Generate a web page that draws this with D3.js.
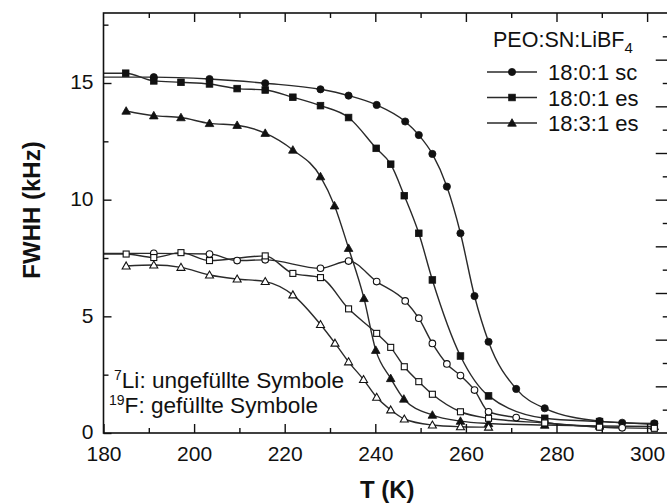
<!DOCTYPE html>
<html>
<head>
<meta charset="utf-8">
<script src="https://cdn.jsdelivr.net/npm/d3@7"></script>
<style>
  html, body { margin: 0; padding: 0; background: #fff; }
  svg { display: block; font-family: "Liberation Sans", Arial, sans-serif; }
</style>
</head>
<body>
<svg id="chart" width="667" height="504"></svg>
<script>
// 19F linewidths (filled symbols)
const tempF_sc = [191.1, 203.4, 215.7, 227.9, 234.1, 240.3, 246.6, 249.6, 252.6, 255.8, 258.8, 261.9, 265.0, 271.1, 277.4, 289.5, 294.5, 301.6];
const fwhhF_sc = [15.25, 15.17, 14.99, 14.73, 14.46, 14.06, 13.35, 12.77, 11.96, 10.56, 8.56, 5.87, 3.91, 1.89, 1.06, 0.51, 0.44, 0.41];

const tempF_es = [184.9, 191.1, 197.1, 203.4, 209.5, 215.7, 221.8, 227.9, 234.1, 240.2, 243.4, 246.4, 249.6, 252.6, 258.8, 265.0, 277.4, 289.5, 301.6];
const fwhhF_es = [15.42, 15.09, 15.03, 14.96, 14.76, 14.70, 14.39, 14.03, 13.52, 12.20, 11.52, 10.17, 8.56, 6.56, 3.30, 1.59, 0.63, 0.49, 0.37];

const tempF_sn = [185.0, 191.1, 197.1, 203.4, 209.5, 215.7, 221.8, 227.9, 231.0, 234.1, 237.5, 240.1, 243.4, 246.3, 252.6, 258.8, 265.0, 277.4, 289.5, 301.6];
const fwhhF_sn = [13.80, 13.60, 13.52, 13.27, 13.19, 12.85, 12.13, 10.99, 9.74, 7.92, 5.77, 3.55, 2.34, 1.46, 0.77, 0.51, 0.41, 0.34, 0.30, 0.28];

// 7Li linewidths (open symbols)
const tempLi_sc = [191.1, 203.4, 209.5, 215.7, 227.9, 234.1, 240.3, 246.6, 249.6, 252.6, 255.8, 258.8, 261.9, 265.0, 271.1, 277.4, 289.5, 294.5];
const fwhhLi_sc = [7.70, 7.67, 7.39, 7.42, 7.06, 7.37, 6.49, 5.66, 4.92, 3.84, 2.96, 2.46, 1.84, 0.91, 0.66, 0.45, 0.26, 0.22];

const tempLi_es = [185.0, 191.1, 197.1, 203.4, 215.7, 221.8, 227.9, 234.1, 240.3, 243.4, 246.4, 249.6, 252.6, 258.8, 265.0, 277.4, 289.5, 301.6];
const fwhhLi_es = [7.67, 7.52, 7.73, 7.39, 7.59, 6.84, 6.66, 5.32, 4.27, 3.67, 2.84, 2.20, 1.66, 0.91, 0.63, 0.43, 0.25, 0.20];

const tempLi_sn = [185.0, 191.1, 197.1, 203.4, 209.5, 215.7, 221.8, 227.9, 231.1, 234.1, 237.4, 240.3, 243.4, 246.4, 252.6, 258.8, 265.0];
const fwhhLi_sn = [7.16, 7.20, 7.10, 6.77, 6.60, 6.49, 5.92, 4.65, 3.85, 3.05, 2.29, 1.53, 0.99, 0.60, 0.34, 0.27, 0.25];

// axis ticks
const xLabelTicks = [180, 200, 220, 240, 260, 280, 300];
const xMinorTicks = [190, 210, 230, 250, 270, 290];
const yLabelTicks = [0, 5, 10, 15];
const yMinorTicks = [2.5, 7.5, 12.5, 17.5];
const yRightTicks = d3.range(1, 18);

const legendTitle = "PEO:SN:LiBF";
const legendLabels = ["18:0:1 sc", "18:0:1 es", "18:3:1 es"];

const series = [
  { T: tempF_sc,  v: fwhhF_sc,  shape: "circle",   filled: true,  toAxis: true },
  { T: tempF_es,  v: fwhhF_es,  shape: "square",   filled: true,  toAxis: true },
  { T: tempF_sn,  v: fwhhF_sn,  shape: "triangle", filled: true,  toAxis: false },
  { T: tempLi_sc, v: fwhhLi_sc, shape: "circle",   filled: false, toAxis: true },
  { T: tempLi_es, v: fwhhLi_es, shape: "square",   filled: false, toAxis: true },
  { T: tempLi_sn, v: fwhhLi_sn, shape: "triangle", filled: false, toAxis: false }
];

const svg = d3.select("#chart");
const plotLeft = 103.5, plotTop = 13, plotBottom = 433;
const x = d3.scaleLinear().domain([180, 305]).range([plotLeft, plotLeft + 125 * 4.53]);
const y = d3.scaleLinear().domain([0, 18]).range([plotBottom, plotTop]);
const plotRight = x.range()[1];

const ink = "#111";
const lineInk = "#2a2a2a";

svg.append("defs").append("clipPath").attr("id", "plotClip")
  .append("rect").attr("x", plotLeft).attr("y", plotTop)
  .attr("width", plotRight - plotLeft).attr("height", plotBottom - plotTop);

// fitted curves, drawn through the measured points
const line = d3.line().x(d => x(d[0])).y(d => y(d[1])).curve(d3.curveMonotoneX);
const plot = svg.append("g").attr("clip-path", "url(#plotClip)");

series.forEach(s => {
  const pts = s.T.map((t, i) => [t, s.v[i]]);
  if (s.toAxis) pts.unshift([x.domain()[0], s.v[0]]);
  plot.append("path").attr("d", line(pts))
    .attr("fill", "none").attr("stroke", lineInk).attr("stroke-width", 1.4);
});

function marker(g, shape, filled, cx, cy) {
  const fill = filled ? ink : "#fff";
  let m;
  if (shape === "circle") {
    m = g.append("circle").attr("cx", cx).attr("cy", cy).attr("r", filled ? 3.6 : 3.3);
  } else if (shape === "square") {
    const h = filled ? 3.3 : 3.0;
    m = g.append("rect").attr("x", cx - h).attr("y", cy - h).attr("width", 2 * h).attr("height", 2 * h);
  } else {
    const h = filled ? 4.3 : 4.0;
    m = g.append("path").attr("d", `M${cx},${cy - h}L${cx + h},${cy + h * 0.75}L${cx - h},${cy + h * 0.75}Z`);
  }
  m.attr("fill", fill).attr("stroke", ink).attr("stroke-width", filled ? 0.8 : 1.1);
}

series.forEach(s => {
  s.T.forEach((t, i) => marker(plot, s.shape, s.filled, x(t), y(s.v[i])));
});

// axes: inward ticks on all four sides
function styleAxis(g) {
  g.select(".domain").remove();
  g.selectAll(".tick line").attr("stroke", ink).attr("stroke-width", 1.4);
  g.selectAll(".tick text").attr("fill", ink).attr("font-size", 21)
    .attr("font-family", "'Liberation Sans', Arial, sans-serif");
}

svg.append("g").attr("transform", `translate(0,${plotBottom})`)
  .call(d3.axisBottom(x).tickValues(xLabelTicks).tickSize(-9).tickPadding(13).tickFormat(d3.format("d")))
  .call(styleAxis);
svg.append("g").attr("transform", `translate(0,${plotBottom})`)
  .call(d3.axisBottom(x).tickValues(xMinorTicks).tickSize(-5).tickFormat(""))
  .call(styleAxis);
svg.append("g").attr("transform", `translate(0,${plotTop})`)
  .call(d3.axisTop(x).tickValues(xLabelTicks.slice(1)).tickSize(-9).tickFormat(""))
  .call(styleAxis);
svg.append("g").attr("transform", `translate(0,${plotTop})`)
  .call(d3.axisTop(x).tickValues(xMinorTicks).tickSize(-5).tickFormat(""))
  .call(styleAxis);

const yAxisG = svg.append("g").attr("transform", `translate(${plotLeft},0)`)
  .call(d3.axisLeft(y).tickValues(yLabelTicks).tickSize(-8).tickPadding(10).tickFormat(d3.format("d")))
  .call(styleAxis);
yAxisG.selectAll(".tick text").attr("dy", "0.28em");
svg.append("g").attr("transform", `translate(${plotLeft},0)`)
  .call(d3.axisLeft(y).tickValues(yMinorTicks).tickSize(-5).tickFormat(""))
  .call(styleAxis);
svg.append("g").attr("transform", `translate(${plotRight},0)`)
  .call(d3.axisRight(y).tickValues(yRightTicks.filter(d => d % 2 === 0)).tickSize(-14).tickFormat(""))
  .call(styleAxis);
svg.append("g").attr("transform", `translate(${plotRight},0)`)
  .call(d3.axisRight(y).tickValues(yRightTicks.filter(d => d % 2 === 1)).tickSize(-7).tickFormat(""))
  .call(styleAxis);

// frame
svg.append("rect").attr("x", plotLeft).attr("y", plotTop)
  .attr("width", plotRight - plotLeft).attr("height", plotBottom - plotTop)
  .attr("fill", "none").attr("stroke", ink).attr("stroke-width", 1.6);

// axis titles
svg.append("text").attr("x", (plotLeft + 667) / 2 + 2).attr("y", 498)
  .attr("text-anchor", "middle").attr("font-size", 24).attr("font-weight", "bold")
  .attr("fill", ink).text("T (K)");
svg.append("text").attr("transform", "translate(40,210) rotate(-90)")
  .attr("text-anchor", "middle").attr("font-size", 24).attr("font-weight", "bold")
  .attr("fill", ink).text("FWHH (kHz)");

// legend
const lg = svg.append("g");
const lt = lg.append("text").attr("x", 493).attr("y", 47).attr("font-size", 21.5).attr("fill", ink);
lt.append("tspan").text(legendTitle);
lt.append("tspan").attr("dy", 6).attr("font-size", 15).text("4");

legendLabels.forEach((lab, i) => {
  const cy = 72 + i * 25.5;
  lg.append("line").attr("x1", 487).attr("x2", 537).attr("y1", cy).attr("y2", cy)
    .attr("stroke", lineInk).attr("stroke-width", 1.4);
  marker(lg, series[i].shape, true, 512, cy);
  lg.append("text").attr("x", 548).attr("y", cy + 8).attr("font-size", 22).attr("fill", ink).text(lab);
});

// nucleus note
const note = svg.append("g").attr("font-size", 22.6).attr("fill", ink);
const n1 = note.append("text").attr("x", 114).attr("y", 388);
n1.append("tspan").attr("font-size", 14).attr("dy", -8).text("7");
n1.append("tspan").attr("dy", 8).text("Li: ungefüllte Symbole");
const n2 = note.append("text").attr("x", 109).attr("y", 413);
n2.append("tspan").attr("font-size", 14).attr("dy", -8).text("19");
n2.append("tspan").attr("dy", 8).text("F: gefüllte Symbole");
</script>
</body>
</html>
